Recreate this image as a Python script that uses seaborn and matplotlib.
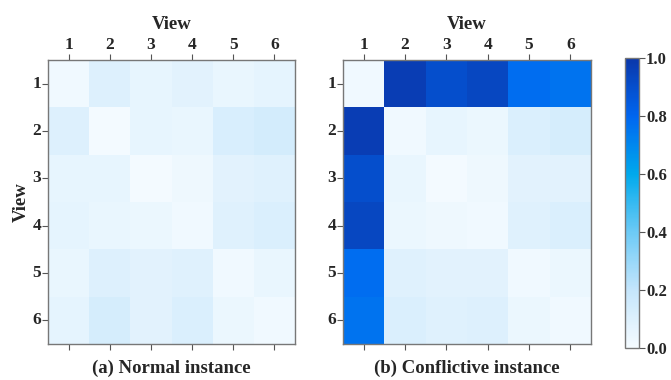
import numpy as np
import matplotlib
matplotlib.use("Agg")
import matplotlib.pyplot as plt
import seaborn as sns
from matplotlib.colors import LinearSegmentedColormap

# ── Data ──────────────────────────────────────────────────────────────────────
views = ["1", "2", "3", "4", "5", "6"]

normal = [
    [0.02, 0.10, 0.06, 0.08, 0.05, 0.07],
    [0.10, 0.01, 0.06, 0.05, 0.12, 0.14],
    [0.06, 0.06, 0.01, 0.03, 0.08, 0.09],
    [0.07, 0.05, 0.04, 0.02, 0.09, 0.11],
    [0.05, 0.10, 0.08, 0.09, 0.02, 0.05],
    [0.07, 0.13, 0.08, 0.11, 0.04, 0.02],
]

conflictive = [
    [0.02, 0.97, 0.90, 0.93, 0.78, 0.76],
    [0.97, 0.02, 0.06, 0.04, 0.11, 0.13],
    [0.90, 0.05, 0.01, 0.03, 0.08, 0.08],
    [0.93, 0.04, 0.03, 0.02, 0.09, 0.11],
    [0.78, 0.09, 0.08, 0.08, 0.02, 0.04],
    [0.76, 0.11, 0.09, 0.10, 0.04, 0.02],
]

titles = ["(a) Normal instance", "(b) Conflictive instance"]

# ── Style ─────────────────────────────────────────────────────────────────────
sns.set_style("white")
plt.rcParams["font.family"] = ["Liberation Serif", "DejaVu Serif"]
plt.rcParams["font.weight"] = "bold"

cmap = LinearSegmentedColormap.from_list(
    "viewblue",
    [(0.0, "#f5fbff"), (0.2, "#c4e5fb"), (0.4, "#6ccaf6"),
     (0.6, "#00a9ec"), (0.8, "#0066f0"), (1.0, "#0a37aa")],
)

W, H = 671, 380
fig = plt.figure(figsize=(W / 100, H / 100), dpi=100)

def box(x0, y0, x1, y1):
    return [x0 / W, 1 - y1 / H, (x1 - x0) / W, (y1 - y0) / H]

ax1 = fig.add_axes(box(48, 60, 295, 344))
ax2 = fig.add_axes(box(343, 60, 591, 344))
cax = fig.add_axes(box(625, 58, 639, 348))

for i, (ax, mat, title) in enumerate(zip([ax1, ax2], [normal, conflictive], titles)):
    sns.heatmap(np.array(mat), ax=ax, cmap=cmap, vmin=0, vmax=1,
                xticklabels=views, yticklabels=views, square=False,
                cbar=(i == 1), cbar_ax=cax if i == 1 else None)
    ax.tick_params(axis="x", top=True, bottom=True, labeltop=True,
                   labelbottom=False, length=4, width=0.8, color="#555555",
                   labelsize=12.5, pad=1)
    ax.tick_params(axis="y", left=True, length=4, width=0.8, color="#555555",
                   labelsize=12.5, rotation=0, pad=1)
    for lab in ax.get_xticklabels() + ax.get_yticklabels():
        lab.set_fontweight("bold")
    for spine in ax.spines.values():
        spine.set_visible(True)
        spine.set_edgecolor("#777777")
        spine.set_linewidth(1.0)
    ax.set_title("View", fontsize=13.5, fontweight="bold", pad=22)
    ax.text(0.5, -0.055, title, transform=ax.transAxes, ha="center", va="top",
            fontsize=13.5, fontweight="bold")
    if i == 0:
        ax.set_ylabel("View", fontsize=13.5, fontweight="bold", labelpad=2)

cb = ax2.collections[0].colorbar
cb.set_ticks([0.0, 0.2, 0.4, 0.6, 0.8, 1.0])
cb.ax.tick_params(labelsize=12, length=4, width=0.8, color="#555555", pad=1)
for lab in cb.ax.get_yticklabels():
    lab.set_fontweight("bold")
cb.outline.set_edgecolor("#777777")
cb.outline.set_linewidth(1.0)

fig.savefig("out.png", dpi=100, facecolor="white")
